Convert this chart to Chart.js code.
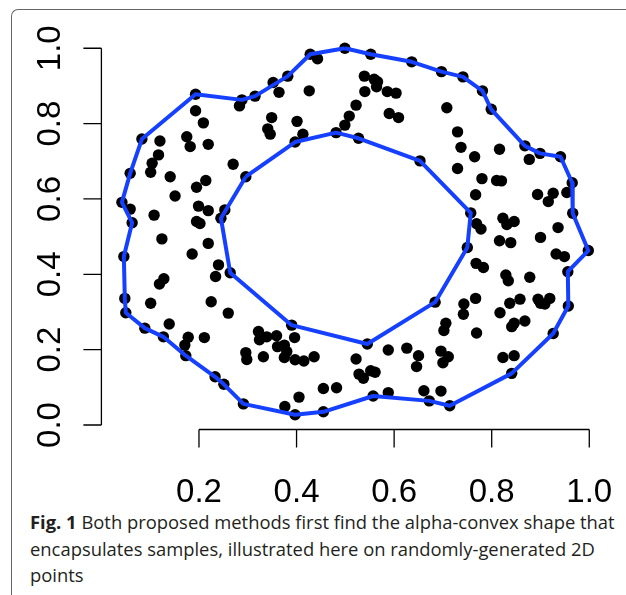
<!DOCTYPE html>
<html>
<head>
<meta charset="utf-8">
<script src="https://cdn.jsdelivr.net/npm/chart.js@4"></script>
<style>
    html, body { margin: 0; padding: 0; background: #fff; }
    #page { position: relative; width: 626px; height: 595px; overflow: hidden; }
    #frame {
        position: absolute; left: 11px; top: 9px; width: 700px; height: 700px;
        border-left: 1.5px solid #666; border-top: 1.5px solid #666;
        border-top-left-radius: 7px;
    }
    #plot { position: absolute; left: 0; top: 0; }
    #caption {
        position: absolute; left: 30px; top: 509px;
        font-family: "Open Sans", sans-serif; font-size: 18.4px; line-height: 26.7px;
        letter-spacing: 0; color: #231f20; white-space: nowrap;
    }
    #caption b { font-weight: 700; }
</style>
</head>
<body>
<div id="page">
    <div id="frame"></div>
    <canvas id="plot" width="626" height="505"></canvas>
    <div id="caption"><b>Fig. 1</b> Both proposed methods first find the alpha-convex shape that<br>encapsulates samples, illustrated here on randomly-generated 2D<br>points</div>
</div>
<script>
// random 2D samples
const sampleX = [
    0.193, 0.193, 0.209, 0.288, 0.283, 0.315, 0.352, 0.382, 0.364, 0.349,
    0.341, 0.346, 0.401, 0.397, 0.083, 0.120, 0.175, 0.182, 0.219, 0.117,
    0.104, 0.101, 0.059, 0.141, 0.214, 0.195, 0.270, 0.296, 0.151, 0.042,
    0.059, 0.108, 0.199, 0.219, 0.253, 0.245, 0.063, 0.195, 0.202, 0.124,
    0.219, 0.186, 0.046, 0.240, 0.234, 0.264, 0.128, 0.119, 0.048, 0.101,
    0.225, 0.260, 0.050, 0.139, 0.089, 0.127, 0.178, 0.171, 0.211, 0.173,
    0.233, 0.251, 0.291, 0.376, 0.397, 0.405, 0.322, 0.324, 0.339, 0.359,
    0.396, 0.361, 0.375, 0.380, 0.375, 0.397, 0.296, 0.298, 0.332, 0.390,
    0.415, 0.436, 0.522, 0.528, 0.537, 0.552, 0.561, 0.588, 0.626, 0.650,
    0.646, 0.696, 0.711, 0.700, 0.706, 0.702, 0.743, 0.742, 0.767, 0.769,
    0.768, 0.769, 0.455, 0.482, 0.557, 0.588, 0.661, 0.696, 0.672, 0.714,
    0.455, 0.545, 0.684, 0.750, 0.757, 0.428, 0.443, 0.499, 0.552, 0.636,
    0.697, 0.741, 0.426, 0.539, 0.559, 0.566, 0.564, 0.540, 0.586, 0.604,
    0.522, 0.508, 0.499, 0.413, 0.481, 0.527, 0.590, 0.609, 0.708, 0.653,
    0.730, 0.737, 0.765, 0.730, 0.780, 0.767, 0.781, 0.799, 0.868, 0.899,
    0.941, 0.965, 0.966, 0.816, 0.877, 0.810, 0.820, 0.894, 0.926, 0.916,
    0.954, 0.823, 0.846, 0.831, 0.936, 0.778, 0.998, 0.932, 0.949, 0.956,
    0.957, 0.926, 0.841, 0.816, 0.839, 0.900, 0.783, 0.829, 0.834, 0.878,
    0.837, 0.858, 0.817, 0.895, 0.900, 0.919, 0.909, 0.868, 0.846, 0.841,
    0.823, 0.846
];
const sampleY = [
    0.878, 0.834, 0.802, 0.863, 0.847, 0.873, 0.909, 0.926, 0.883, 0.816,
    0.786, 0.772, 0.806, 0.751, 0.759, 0.754, 0.765, 0.739, 0.745, 0.717,
    0.695, 0.671, 0.668, 0.659, 0.649, 0.631, 0.692, 0.659, 0.608, 0.591,
    0.573, 0.557, 0.581, 0.569, 0.571, 0.549, 0.537, 0.540, 0.535, 0.494,
    0.482, 0.454, 0.447, 0.425, 0.394, 0.404, 0.388, 0.374, 0.336, 0.323,
    0.327, 0.297, 0.298, 0.268, 0.257, 0.234, 0.233, 0.212, 0.232, 0.184,
    0.128, 0.108, 0.056, 0.049, 0.027, 0.074, 0.248, 0.226, 0.234, 0.237,
    0.232, 0.208, 0.212, 0.195, 0.179, 0.173, 0.192, 0.174, 0.181, 0.265,
    0.170, 0.181, 0.175, 0.135, 0.124, 0.144, 0.140, 0.199, 0.204, 0.184,
    0.155, 0.196, 0.181, 0.165, 0.270, 0.251, 0.321, 0.294, 0.336, 0.244,
    0.429, 0.534, 0.097, 0.099, 0.077, 0.086, 0.091, 0.090, 0.064, 0.051,
    0.035, 0.215, 0.326, 0.471, 0.563, 0.984, 0.972, 1.000, 0.984, 0.964,
    0.938, 0.924, 0.887, 0.926, 0.918, 0.911, 0.898, 0.885, 0.885, 0.881,
    0.849, 0.820, 0.796, 0.772, 0.776, 0.761, 0.827, 0.816, 0.842, 0.701,
    0.778, 0.737, 0.712, 0.681, 0.654, 0.611, 0.887, 0.838, 0.741, 0.721,
    0.712, 0.643, 0.562, 0.732, 0.705, 0.649, 0.648, 0.612, 0.615, 0.593,
    0.617, 0.549, 0.540, 0.532, 0.524, 0.520, 0.463, 0.454, 0.447, 0.407,
    0.316, 0.243, 0.137, 0.489, 0.484, 0.498, 0.418, 0.398, 0.383, 0.392,
    0.323, 0.334, 0.298, 0.334, 0.323, 0.336, 0.321, 0.276, 0.270, 0.261,
    0.179, 0.184
];

// alpha-convex boundary, outer ring
const outerX = [
    0.499, 0.552, 0.636, 0.697, 0.741, 0.781, 0.799, 0.868, 0.899, 0.941,
    0.965, 0.966, 0.998, 0.956, 0.957, 0.926, 0.841, 0.714, 0.672, 0.557,
    0.455, 0.397, 0.291, 0.251, 0.233, 0.173, 0.127, 0.089, 0.050, 0.048,
    0.046, 0.063, 0.042, 0.059, 0.083, 0.193, 0.288, 0.315, 0.382, 0.428,
    0.499
];
const outerY = [
    1.000, 0.984, 0.964, 0.938, 0.924, 0.887, 0.838, 0.741, 0.721, 0.712,
    0.643, 0.562, 0.463, 0.407, 0.316, 0.243, 0.137, 0.051, 0.064, 0.077,
    0.035, 0.027, 0.056, 0.108, 0.128, 0.184, 0.234, 0.257, 0.298, 0.336,
    0.447, 0.537, 0.591, 0.668, 0.759, 0.878, 0.863, 0.873, 0.926, 0.984,
    1.000
];

// inner ring (the hole)
const innerX = [0.296, 0.397, 0.481, 0.527, 0.653, 0.757, 0.750, 0.684, 0.545, 0.390, 0.264, 0.245, 0.296];
const innerY = [0.659, 0.751, 0.776, 0.761, 0.701, 0.563, 0.471, 0.326, 0.215, 0.265, 0.404, 0.549, 0.659];

const xTicks = [0.2, 0.4, 0.6, 0.8, 1.0];
const yTicks = [0.0, 0.2, 0.4, 0.6, 0.8, 1.0];

const toPoints = (xs, ys) => xs.map((x, i) => ({ x: x, y: ys[i] }));

const HULL_COLOR = '#1540ff';
const AXIS_FONT = '33px "Liberation Sans", Arial, sans-serif';

// R-style axes: line only over the tick range, ticks pointing out
const baseAxes = {
    id: 'baseAxes',
    afterDraw(chart) {
        const ctx = chart.ctx;
        const xs = chart.scales.x, ys = chart.scales.y;
        const area = chart.chartArea;
        const tick = 18;
        ctx.save();
        ctx.strokeStyle = '#000';
        ctx.fillStyle = '#000';
        ctx.lineWidth = 1.3;
        ctx.font = AXIS_FONT;

        // bottom
        const yb = area.bottom;
        ctx.beginPath();
        ctx.moveTo(xs.getPixelForValue(xTicks[0]), yb);
        ctx.lineTo(xs.getPixelForValue(xTicks[xTicks.length - 1]), yb);
        xTicks.forEach(v => {
            const px = xs.getPixelForValue(v);
            ctx.moveTo(px, yb);
            ctx.lineTo(px, yb + tick);
        });
        ctx.stroke();
        ctx.textAlign = 'center';
        ctx.textBaseline = 'middle';
        xTicks.forEach(v => {
            ctx.fillText(v.toFixed(1), xs.getPixelForValue(v), yb + 63);
        });

        // left
        const xl = area.left;
        ctx.beginPath();
        ctx.moveTo(xl, ys.getPixelForValue(yTicks[0]));
        ctx.lineTo(xl, ys.getPixelForValue(yTicks[yTicks.length - 1]));
        yTicks.forEach(v => {
            const py = ys.getPixelForValue(v);
            ctx.moveTo(xl, py);
            ctx.lineTo(xl - tick, py);
        });
        ctx.stroke();
        yTicks.forEach(v => {
            ctx.save();
            ctx.translate(xl - 50, ys.getPixelForValue(v));
            ctx.rotate(-Math.PI / 2);
            ctx.fillText(v.toFixed(1), 0, 0);
            ctx.restore();
        });
        ctx.restore();
    }
};

new Chart(document.getElementById('plot'), {
    type: 'scatter',
    data: {
        datasets: [
            {
                label: 'outer',
                data: toPoints(outerX, outerY),
                showLine: true,
                borderColor: HULL_COLOR,
                borderWidth: 4,
                borderJoinStyle: 'round',
                pointRadius: 0,
                clip: false,
                order: 0
            },
            {
                label: 'inner',
                data: toPoints(innerX, innerY),
                showLine: true,
                borderColor: HULL_COLOR,
                borderWidth: 4,
                borderJoinStyle: 'round',
                pointRadius: 0,
                clip: false,
                order: 0
            },
            {
                label: 'samples',
                data: toPoints(sampleX, sampleY),
                backgroundColor: '#000',
                borderWidth: 0,
                pointRadius: 5.7,
                clip: false,
                order: 1
            }
        ]
    },
    options: {
        responsive: false,
        animation: false,
        devicePixelRatio: 1,
        layout: { padding: { left: 101.4, right: 17.2, top: 33.2, bottom: 75.5 } },
        scales: {
            x: { type: 'linear', display: false, min: 0, max: 1.04 },
            y: { type: 'linear', display: false, min: -0.012, max: 1.04 }
        },
        plugins: {
            legend: { display: false },
            tooltip: { enabled: false }
        }
    },
    plugins: [baseAxes]
});
</script>
</body>
</html>
